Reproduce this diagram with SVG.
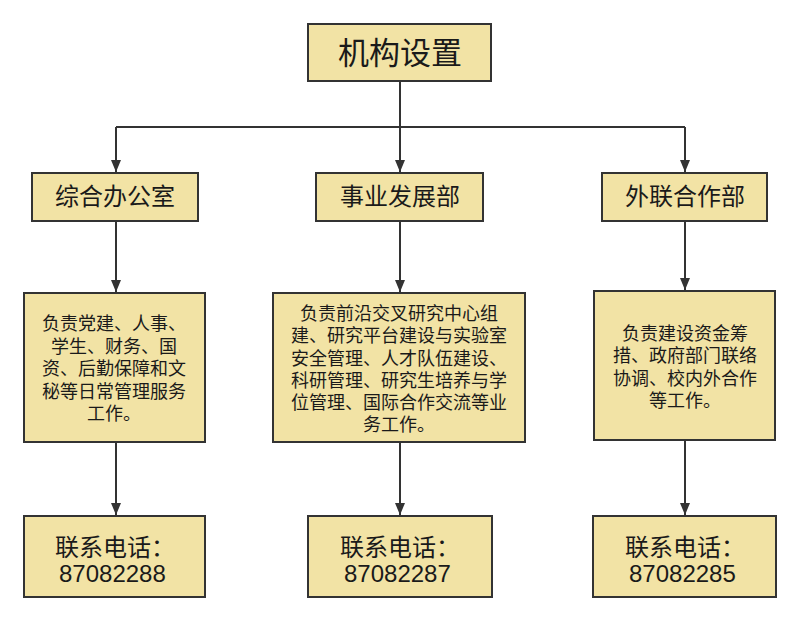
<svg xmlns="http://www.w3.org/2000/svg" width="800" height="623" viewBox="0 0 800 623">
<style>
.box{fill:#F2E3A5;stroke:#333;stroke-width:2}
.t{font-family:"Noto Sans CJK SC","Liberation Sans",sans-serif;fill:#1a1a1a}
.title{font-size:31px;text-anchor:middle}
.dept{font-size:24px;text-anchor:middle}
.desc{font-size:18px;text-anchor:middle}
.ph{font-size:24px}
.num{font-family:"Liberation Sans",Arial,sans-serif;font-size:24px;fill:#1a1a1a}
.ln{fill:none;stroke:#333;stroke-width:2}
</style>
<defs>
<marker id="ah" markerWidth="12" markerHeight="10" refX="12" refY="5" orient="auto" markerUnits="userSpaceOnUse" viewBox="0 0 12 10">
<path d="M0,0 L12,5 L0,10 Z" fill="#333"/>
</marker>
</defs>
<rect width="800" height="623" fill="#fff"/>
<g id="connectors">
<path class="ln" d="M400,82 V127"/>
<path class="ln" d="M116,127 H685"/>
<path class="ln" d="M116,127 V172" marker-end="url(#ah)"/>
<path class="ln" d="M400,127 V172" marker-end="url(#ah)"/>
<path class="ln" d="M685,127 V172" marker-end="url(#ah)"/>
<path class="ln" d="M116,221 V292" marker-end="url(#ah)"/>
<path class="ln" d="M400,221 V292" marker-end="url(#ah)"/>
<path class="ln" d="M685,221 V290" marker-end="url(#ah)"/>
<path class="ln" d="M116,442 V515" marker-end="url(#ah)"/>
<path class="ln" d="M400,442 V515" marker-end="url(#ah)"/>
<path class="ln" d="M685,440 V515" marker-end="url(#ah)"/>
</g>
<g id="root">
<rect class="box" x="308" y="24" width="183" height="57"/>
<text class="t title" x="400" y="64">机构设置</text>
</g>
<g id="office">
<rect class="box" x="32" y="173" width="166" height="48"/>
<text class="t dept" x="115" y="205">综合办公室</text>
</g>
<g id="development">
<rect class="box" x="316" y="173" width="167" height="48"/>
<text class="t dept" x="400" y="205">事业发展部</text>
</g>
<g id="external">
<rect class="box" x="602" y="173" width="165" height="48"/>
<text class="t dept" x="685" y="205">外联合作部</text>
</g>
<g id="office-desc">
<rect class="box" x="24" y="293" width="181" height="149"/>
<text class="t desc"><tspan x="114" y="330">负责党建、人事、</tspan><tspan x="114" y="352.5">学生、财务、国</tspan><tspan x="114" y="375">资、后勤保障和文</tspan><tspan x="114" y="397.5">秘等日常管理服务</tspan><tspan x="114" y="420">工作。</tspan></text>
</g>
<g id="development-desc">
<rect class="box" x="273" y="293" width="252" height="149"/>
<text class="t desc"><tspan x="399" y="320">负责前沿交叉研究中心组</tspan><tspan x="399" y="342">建、研究平台建设与实验室</tspan><tspan x="399" y="364.5">安全管理、人才队伍建设、</tspan><tspan x="399" y="386.5">科研管理、研究生培养与学</tspan><tspan x="399" y="409">位管理、国际合作交流等业</tspan><tspan x="399" y="431">务工作。</tspan></text>
</g>
<g id="external-desc">
<rect class="box" x="594" y="291" width="181" height="149"/>
<text class="t desc"><tspan x="685" y="340">负责建设资金筹</tspan><tspan x="685" y="362">措、政府部门联络</tspan><tspan x="685" y="384.5">协调、校内外合作</tspan><tspan x="685" y="406.5">等工作。</tspan></text>
</g>
<g id="office-phone">
<rect class="box" x="24" y="516" width="181" height="81"/>
<text class="t ph" x="55" y="556">联系电话：</text>
<text class="num" x="59" y="582">87082288</text>
</g>
<g id="development-phone">
<rect class="box" x="308" y="516" width="184" height="81"/>
<text class="t ph" x="340" y="556">联系电话：</text>
<text class="num" x="344" y="582">87082287</text>
</g>
<g id="external-phone">
<rect class="box" x="593" y="516" width="183" height="81"/>
<text class="t ph" x="625" y="556">联系电话：</text>
<text class="num" x="629" y="582">87082285</text>
</g>
</svg>
